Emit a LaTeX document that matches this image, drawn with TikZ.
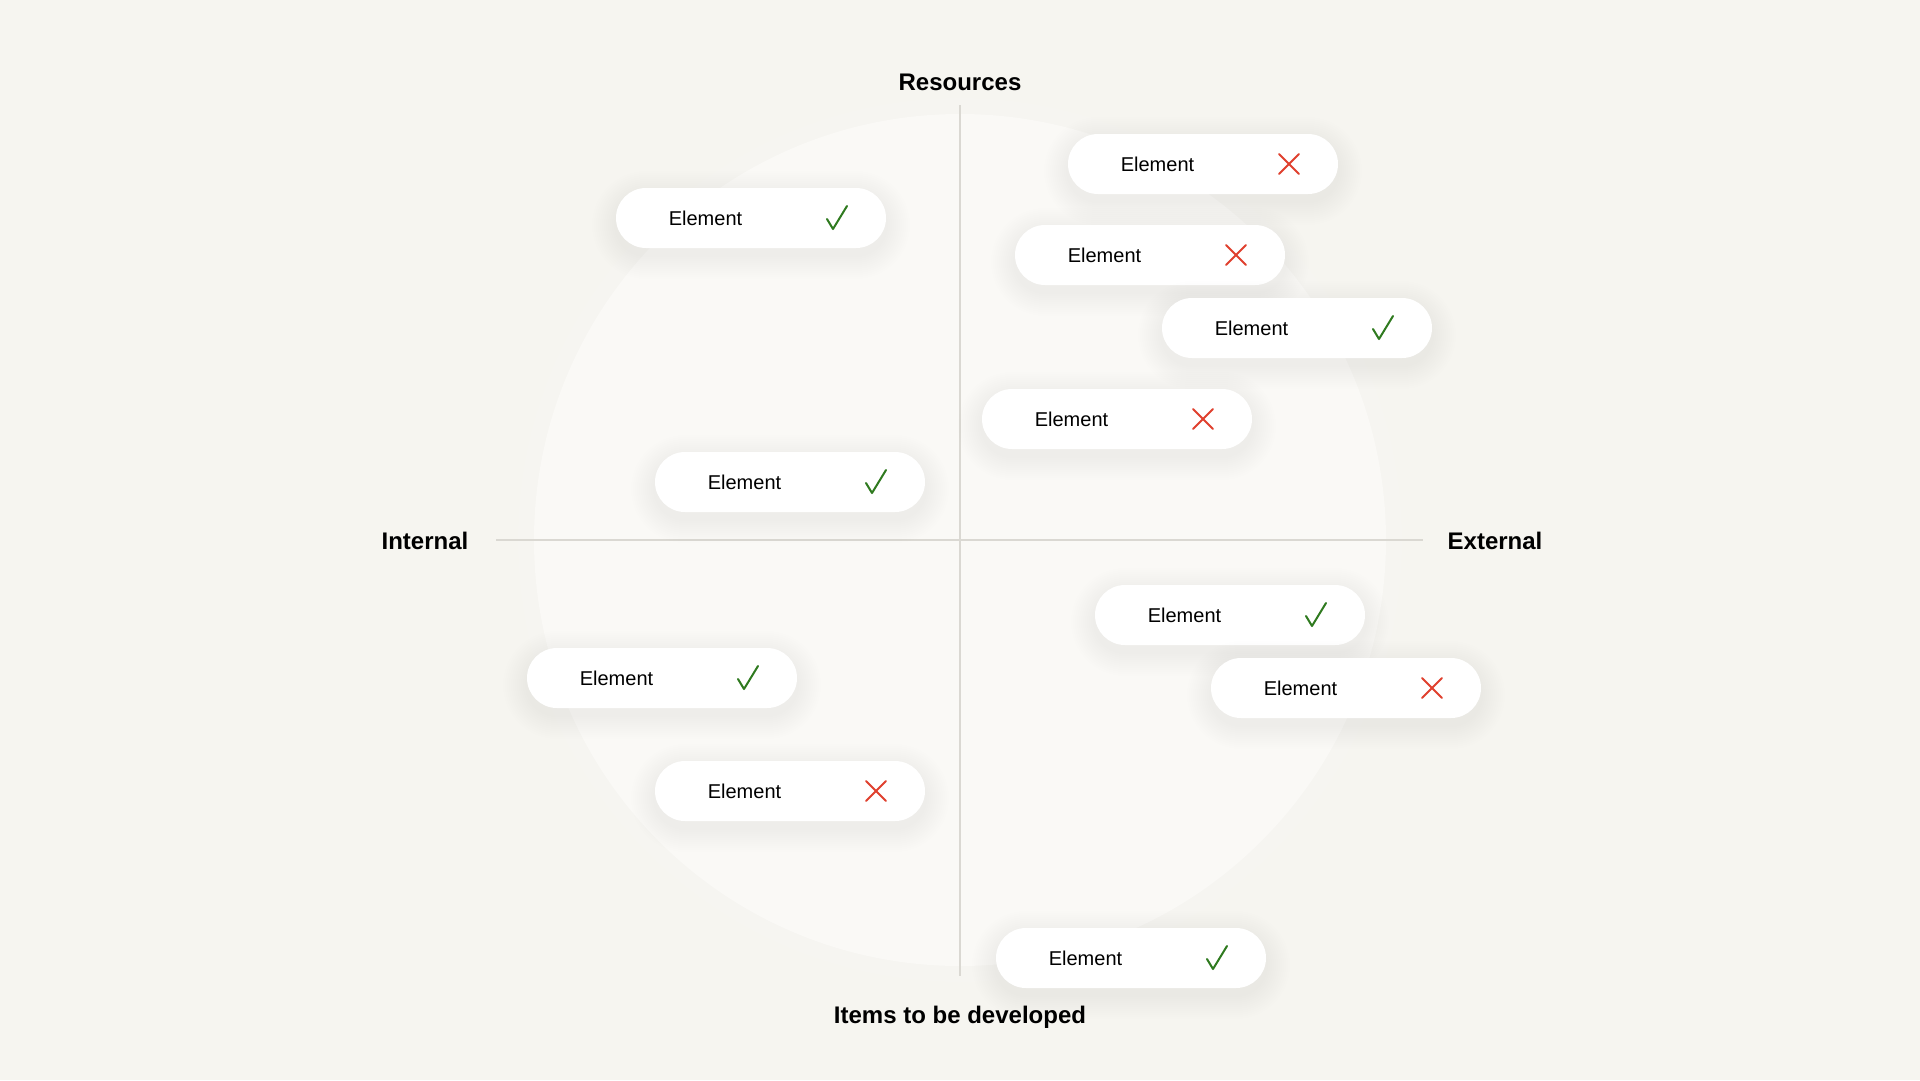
\documentclass[tikz,border=0pt]{standalone}
\usepackage{fontspec}
\setmainfont{Liberation Sans}
\definecolor{bg}{HTML}{F6F5F0}
\definecolor{circ}{HTML}{FAF9F6}
\definecolor{axisc}{HTML}{DAD8D2}
\definecolor{okgreen}{HTML}{2F7A1F}
\definecolor{nored}{HTML}{E0402E}
\tikzset{
  pill/.style={fill=white, rounded corners=30pt, minimum width=270pt, minimum height=60pt, inner sep=0pt},
  eltext/.style={font=\fontsize{20}{24}\selectfont, text=black, inner sep=0pt},
  axislabel/.style={font=\fontsize{24}{28}\selectfont\bfseries, text=black, inner sep=0pt},
  axisline/.style={draw=axisc, line width=1.5pt},
  chk/.style={draw=okgreen, line width=2pt, line cap=round, line join=round},
  crs/.style={draw=nored, line width=2pt, line cap=round},
  softshadow/.style={fill=black, opacity=0.0045},
}
\newcommand\mypill[4]{%
  \foreach \k in {1,...,12}{%
    \pgfmathsetmacro\rr{30+\k*2}%
    \fill[softshadow, rounded corners=\rr pt] (#2-\k*2,#3-30-\k*2+7) rectangle (#2+270+\k*2,#3+30+\k*2+7);
  }
  \node[pill] (#1) at (#2+135,#3) {};
  \node[eltext] (#1t) at ([xshift=-45.5pt]#1.center) {Element};
  \ifx#4c
    \draw[chk, shift={(#1.center)}] (76,1) -- (82,11) -- (96,-12);
  \else
    \draw[crs, shift={(#1.center)}] (76,-10) -- (96,10) (76,10) -- (96,-10);
  \fi
}
\begin{document}
\begin{tikzpicture}[x=1pt,y=-1pt]
\useasboundingbox (0,0) rectangle (1920,1080);
\fill[bg] (0,0) rectangle (1920,1080);
\foreach \k in {1,...,8}{\fill[circ, opacity=0.18] (960,540) circle (426+\k*2);}
\fill[circ] (960,540) circle (426);
\coordinate (vt) at (960,105);
\coordinate (vb) at (960,976);
\coordinate (hl) at (496,540);
\coordinate (hr) at (1423,540);
\draw[axisline] (vt) -- (vb);
\draw[axisline] (hl) -- (hr);
\node[axislabel] (res) at (960,82) {Resources};
\node[axislabel] (int) at (425,541) {Internal};
\node[axislabel] (ext) at (1495,541) {External};
\node[axislabel, anchor=base] (dev) at (960,1023) {Items to be developed};
\mypill{e1}{616}{218}{c}
\mypill{e2}{1068}{164}{x}
\mypill{e3}{1015}{255}{x}
\mypill{e4}{1162}{328}{c}
\mypill{e5}{982}{419}{x}
\mypill{e6}{655}{482}{c}
\mypill{e7}{1095}{615}{c}
\mypill{e8}{1211}{688}{x}
\mypill{e9}{527}{678}{c}
\mypill{e10}{655}{791}{x}
\mypill{e11}{996}{958}{c}
\end{tikzpicture}
\end{document}
